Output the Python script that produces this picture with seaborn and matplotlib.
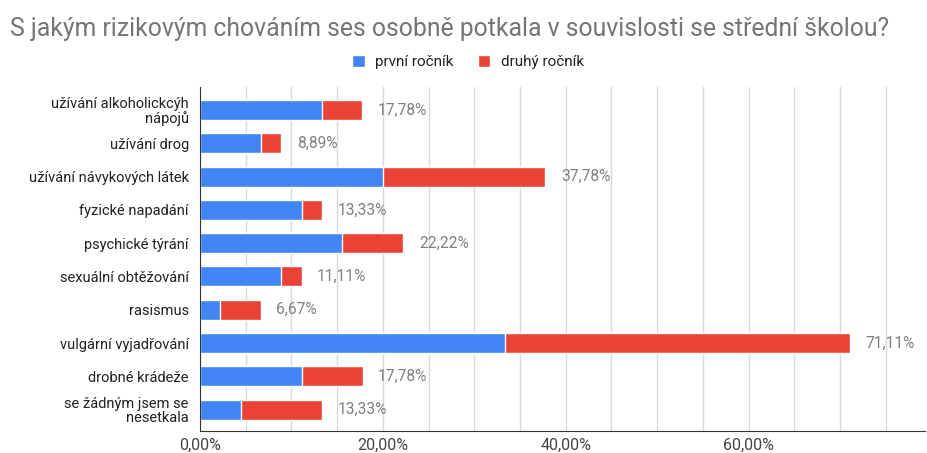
import matplotlib
matplotlib.use("Agg")
import matplotlib.pyplot as plt
from matplotlib.patches import Patch
from matplotlib.ticker import MultipleLocator, FuncFormatter
import seaborn as sns
import pandas as pd

kategorie = [
    "užívání alkoholickcýh\nnápojů",
    "užívání drog",
    "užívání návykových látek",
    "fyzické napadání",
    "psychické týrání",
    "sexuální obtěžování",
    "rasismus",
    "vulgární vyjadřování",
    "drobné krádeže",
    "se žádným jsem se\nnesetkala",
]
prvni_rocnik = [13.33, 6.67, 20.00, 11.11, 15.56, 8.89, 2.22, 33.33, 11.11, 4.44]
druhy_rocnik = [4.44, 2.22, 17.78, 2.22, 6.67, 2.22, 4.44, 37.78, 6.67, 8.89]
celkem = [17.78, 8.89, 37.78, 13.33, 22.22, 11.11, 6.67, 71.11, 17.78, 13.33]

modra = "#4285F4"
cervena = "#EA4335"
seda = "#757575"

df = pd.DataFrame({"kategorie": kategorie, "prvni": prvni_rocnik,
                   "celkem": [p + d for p, d in zip(prvni_rocnik, druhy_rocnik)]})

sns.set_style("white")
plt.rcParams["font.family"] = ["Roboto", "DejaVu Sans"]

fig = plt.figure(figsize=(9.27, 4.53), dpi=100)
ax = fig.add_axes([0.2157, 0.0486, 0.7823, 0.7594])

# stacked: celkem (red) underneath, první ročník (blue) on top
sns.barplot(data=df, x="celkem", y="kategorie", orient="h", color=cervena,
            width=0.6, saturation=1, ax=ax)
sns.barplot(data=df, x="prvni", y="kategorie", orient="h", color=modra,
            width=0.6, saturation=1, ax=ax)

for i, hodnota in enumerate(celkem):
    ax.text(df["celkem"][i] + 1.7, i, f"{hodnota:.2f}".replace(".", ",") + "%",
            va="center", ha="left", fontsize=11.2, color="#808080")

ax.set_xlim(0, 79.3)
ax.set_ylim(9.64, -0.69)
ax.xaxis.set_major_locator(MultipleLocator(20))
ax.xaxis.set_minor_locator(MultipleLocator(5))
ax.xaxis.set_major_formatter(FuncFormatter(lambda v, p: f"{v:.2f}".replace(".", ",") + "%"))
ax.grid(axis="x", which="both", color="#d9d9d9", linewidth=1)
ax.set_axisbelow(True)
ax.set_xlabel("")
ax.set_ylabel("")
for s in ["top", "right"]:
    ax.spines[s].set_visible(False)
ax.spines["left"].set_color("#333333")
ax.spines["bottom"].set_color("#333333")
ax.tick_params(axis="x", length=0, labelsize=11.5, labelcolor="#444444", pad=5)
ax.tick_params(axis="y", length=0, labelsize=10.5, labelcolor="#222222", pad=8)
for lbl in ax.get_yticklabels():
    lbl.set_linespacing(1.0)

fig.text(0.011, 0.935, "S jakým rizikovým chováním ses osobně potkala v souvislosti se střední školou?",
         fontsize=17.8, color=seda, ha="left", va="center")

handles = [Patch(facecolor=modra, label="první ročník"),
           Patch(facecolor=cervena, label="druhý ročník")]
fig.legend(handles=handles, loc="center", bbox_to_anchor=(0.505, 0.863), ncol=2,
           frameon=False, fontsize=11, handlelength=0.8, handleheight=0.8,
           handletextpad=0.7, columnspacing=1.6, labelcolor="#222222")

fig.savefig("out.png", dpi=100)
